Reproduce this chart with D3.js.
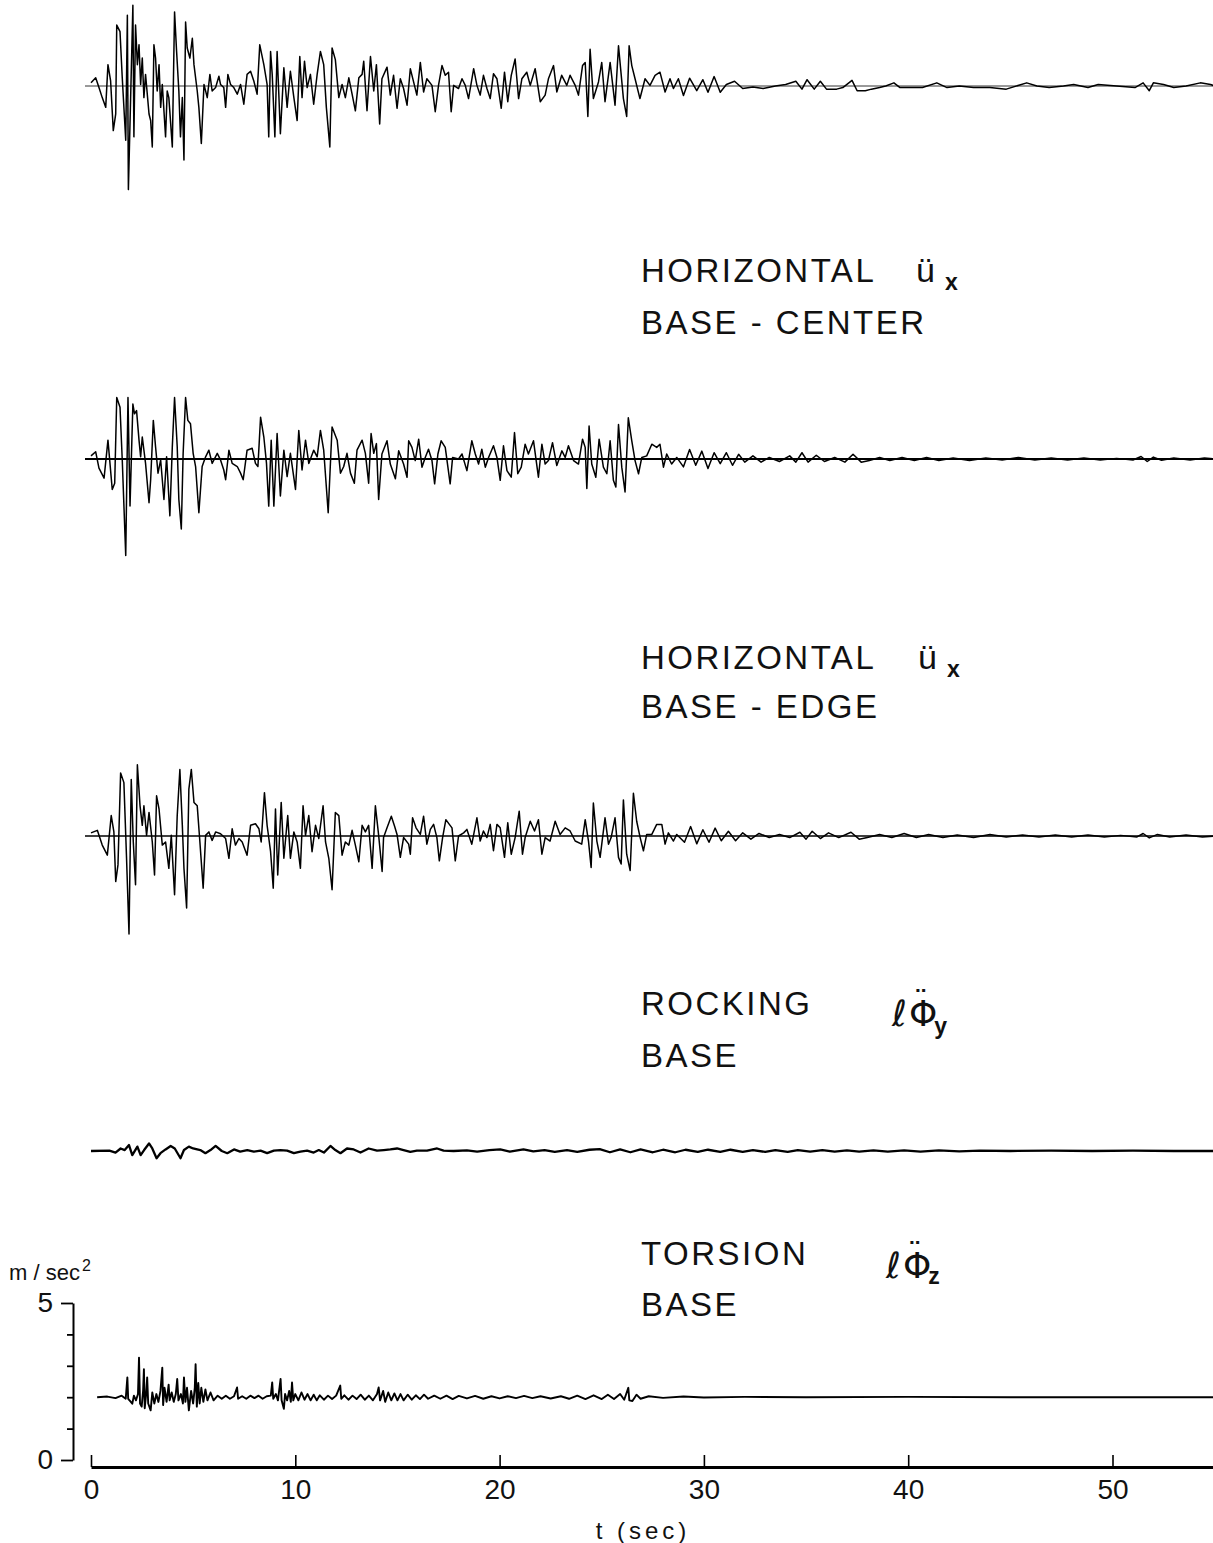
<!DOCTYPE html>
<html>
<head>
<meta charset="utf-8">
<script src="https://cdn.jsdelivr.net/npm/d3@7"></script>
<style>
  html, body { margin: 0; padding: 0; background: #fff; }
  svg { display: block; }
</style>
</head>
<body>
<svg id="chart" width="1213" height="1543"></svg>
<script>
// ---------------- DATA (time in sec, acceleration in m/sec^2) ----------------
const timeTicks = [0, 10, 20, 30, 40, 50];
const accelTicks = [0, 1, 2, 3, 4, 5];
const labelledAccelTicks = [0, 5];

// top record (label cropped above)
const upperRecord = [
[0,0.1],[0.23,0.26],[0.39,-0.05],[0.55,-0.37],[0.72,-0.68],[0.83,0.68],[0.96,0.16],[1.09,-1.42],[1.21,-0.89],[1.26,1.94],
[1.42,1.73],[1.53,0.26],[1.70,-1.73],[1.78,2.25],[1.83,-3.30],[1.94,-0.37],[2.05,2.57],[2.10,-1.62],[2.18,1.94],[2.27,0.68],
[2.35,1.31],[2.43,0.05],[2.51,0.89],[2.59,-0.37],[2.67,0.37],[2.84,-0.89],[2.92,-1.10],[3.00,-1.94],[3.08,1.31],[3.16,0.89],
[3.24,-0.16],[3.33,0.68],[3.41,-0.68],[3.49,0.05],[3.65,-1.62],[3.73,-0.16],[3.81,-0.37],[3.98,-1.94],[4.09,2.36],[4.19,1.10],
[4.30,-0.16],[4.38,-1.62],[4.47,-0.37],[4.55,-2.36],[4.63,2.04],[4.71,1.21],[4.84,0.89],[4.96,1.52],[5.04,0.68],[5.20,-0.16],
[5.28,-0.68],[5.40,-1.83],[5.53,0.05],[5.69,-0.37],[5.82,0.37],[5.93,-0.16],[6.10,-0.05],[6.26,0.31],[6.34,0.05],[6.50,-0.05],
[6.59,-0.68],[6.70,0.37],[6.83,0.05],[6.99,-0.05],[7.16,-0.26],[7.32,0.05],[7.48,-0.58],[7.64,0.37],[7.81,0.47],[7.97,0.16],
[8.13,-0.26],[8.26,1.31],[8.46,0.68],[8.62,0.05],[8.70,-1.62],[8.79,1.10],[8.87,0.37],[9.00,-1.62],[9.11,1.10],[9.27,-1.52],
[9.44,0.58],[9.60,-0.68],[9.76,0.47],[9.93,-0.37],[10.09,-1.10],[10.22,0.94],[10.33,-0.37],[10.45,0.79],[10.58,-0.05],[10.74,0.37],
[10.90,-0.58],[11.07,0.37],[11.23,1.10],[11.39,0.68],[11.52,-0.68],[11.69,-1.94],[11.80,1.21],[11.96,0.84],[12.13,-0.37],[12.29,0.05],
[12.45,-0.37],[12.62,0.26],[12.78,-0.26],[12.94,-0.79],[13.11,0.26],[13.27,0.37],[13.35,0.79],[13.51,-0.79],[13.68,0.94],[13.84,-0.16],
[13.97,0.68],[14.13,-1.21],[14.24,0.23],[14.49,0.60],[14.65,-0.29],[14.81,0.34],[14.98,-0.71],[15.14,0.23],[15.30,-0.08],[15.47,-0.61],
[15.63,0.55],[15.79,0.13],[15.95,-0.29],[16.12,0.75],[16.28,-0.19],[16.44,0.23],[16.69,0.02],[16.85,-0.82],[17.01,0.02],[17.18,0.65],
[17.34,0.34],[17.50,0.44],[17.63,-0.82],[17.75,0.02],[17.99,-0.08],[18.16,0.23],[18.32,0.02],[18.48,-0.40],[18.73,0.55],[18.89,0.02],
[19.05,-0.29],[19.21,0.34],[19.38,-0.08],[19.54,-0.40],[19.70,0.39],[19.87,0.23],[20.08,-0.71],[20.24,0.44],[20.40,-0.50],[20.57,0.34],
[20.76,0.86],[20.93,-0.40],[21.09,0.23],[21.33,0.44],[21.50,0.02],[21.74,0.55],[21.99,-0.50],[22.23,-0.29],[22.39,0.23],[22.64,0.65],
[22.80,-0.19],[23.04,0.34],[23.29,0.02],[23.45,0.34],[23.70,0.02],[23.86,-0.29],[24.06,0.65],[24.19,0.75],[24.32,-0.97],[24.43,1.17],
[24.59,-0.40],[24.84,0.13],[25.00,0.75],[25.16,-0.50],[25.41,0.75],[25.65,-0.61],[25.82,1.28],[26.06,-0.40],[26.22,-0.97],[26.34,1.28],
[26.47,0.65],[26.63,0.23],[26.87,-0.40],[27.12,0.23],[27.36,0.02],[27.61,0.34],[27.85,0.44],[28.10,-0.19],[28.34,0.23],[28.51,-0.08],
[28.75,0.23],[29.0,-0.3],[29.3,0.25],[29.65,-0.15],[29.95,0.2],[30.2,-0.2],[30.5,0.3],[30.8,-0.2],[31.1,0.05],[31.5,0.15],
[31.9,-0.08],[32.4,-0.03],[32.9,-0.08],[33.5,0.0],[34.0,0.05],[34.5,0.15],[34.8,-0.1],[35.05,0.2],[35.4,-0.1],[35.7,0.15],
[36.0,-0.1],[36.5,-0.1],[36.8,-0.05],[37.25,0.18],[37.5,-0.15],[37.9,-0.15],[38.2,-0.1],[38.6,-0.05],[38.9,0.0],[39.3,0.1],
[39.6,-0.05],[40.2,-0.05],[40.7,-0.05],[41.4,0.1],[41.9,-0.05],[42.5,0.0],[43.2,-0.05],[44.0,-0.05],[44.8,-0.1],[45.8,0.1],
[46.3,0.0],[46.9,-0.05],[47.6,0.0],[48.1,0.05],[48.8,-0.05],[49.3,0.05],[50.2,0.0],[51.1,-0.05],[51.5,0.1],[51.8,-0.15],
[52.0,0.1],[52.5,0.05],[53.0,-0.05],[53.6,0.0],[54.3,0.1],[54.8,0.05],[55,0]
];

// HORIZONTAL ü_x  BASE - CENTER
const baseCenterHoriz = [
[0,0.1],[0.23,0.23],[0.39,-0.29],[0.64,-0.61],[0.83,0.60],[1.04,-0.97],[1.16,-0.77],[1.26,1.96],[1.42,1.65],[1.53,-0.03],
[1.70,-3.07],[1.81,1.96],[1.91,-1.50],[2.05,1.75],[2.13,1.44],[2.23,1.54],[2.35,0.60],[2.43,0.07],[2.51,0.70],[2.67,-0.14],
[2.84,-1.39],[2.92,-0.66],[3.05,1.23],[3.16,0.39],[3.28,-0.45],[3.41,-0.03],[3.57,-1.29],[3.70,0.07],[3.86,-1.81],[3.98,0.39],
[4.09,1.96],[4.22,0.39],[4.30,-1.29],[4.42,-2.23],[4.51,0.18],[4.63,1.96],[4.74,1.23],[4.87,1.12],[5.00,0.18],[5.12,-0.24],
[5.28,-1.71],[5.44,-0.24],[5.61,0.07],[5.77,0.28],[5.93,-0.14],[6.18,0.18],[6.34,-0.03],[6.50,-0.35],[6.59,-0.66],[6.75,0.28],
[6.91,-0.14],[7.16,-0.24],[7.32,-0.45],[7.45,-0.66],[7.64,0.28],[7.89,0.34],[8.05,-0.14],[8.17,-0.24],[8.30,1.33],[8.46,0.70],
[8.59,-0.14],[8.70,-1.50],[8.82,0.60],[8.95,-1.50],[9.11,0.81],[9.27,-1.18],[9.44,0.28],[9.60,-0.56],[9.76,0.18],[10.01,-0.97],
[10.17,0.91],[10.33,-0.35],[10.50,0.60],[10.66,-0.14],[10.90,0.28],[11.07,0.07],[11.23,0.91],[11.39,0.28],[11.61,-1.71],[11.80,1.02],
[12.05,0.60],[12.21,-0.45],[12.37,-0.24],[12.53,0.18],[12.70,-0.45],[12.89,-0.77],[13.02,0.28],[13.27,0.60],[13.43,0.18],[13.59,-0.77],
[13.71,0.81],[13.84,0.18],[13.97,0.49],[14.08,-1.29],[14.24,0.16],[14.49,0.58],[14.65,-0.16],[14.90,-0.63],[15.06,0.26],[15.30,-0.16],
[15.47,-0.58],[15.55,0.58],[15.71,0.37],[15.87,-0.05],[16.04,0.63],[16.20,-0.26],[16.36,0.05],[16.52,0.31],[16.69,-0.05],[16.82,-0.79],
[16.98,0.16],[17.14,0.58],[17.34,0.37],[17.58,-0.79],[17.70,0.05],[17.99,0.0],[18.16,0.16],[18.40,-0.37],[18.64,0.58],[18.81,0.16],
[18.97,-0.16],[19.13,0.31],[19.30,-0.26],[19.46,0.05],[19.70,0.42],[19.87,0.05],[20.03,-0.68],[20.19,0.42],[20.36,-0.37],[20.57,-0.58],
[20.73,0.84],[20.89,-0.47],[21.06,-0.26],[21.25,0.47],[21.41,0.16],[21.66,0.58],[21.90,-0.58],[22.07,0.47],[22.23,-0.16],[22.39,-0.05],
[22.59,0.52],[22.80,-0.21],[23.05,0.26],[23.21,0.05],[23.37,0.42],[23.62,-0.05],[23.86,-0.16],[24.06,0.63],[24.19,0.37],[24.27,-0.94],
[24.38,1.05],[24.51,-0.16],[24.71,-0.58],[24.87,0.63],[25.08,-0.26],[25.25,-0.47],[25.41,0.58],[25.57,-0.68],[25.69,-0.89],[25.82,1.10],
[25.98,-0.26],[26.14,-1.05],[26.30,1.31],[26.47,0.58],[26.63,-0.05],[26.80,-0.47],[26.96,0.05],[27.20,0.10],[27.45,0.47],[27.69,0.37],
[27.85,0.47],[28.02,-0.26],[28.18,0.16],[28.42,-0.16],[28.67,0.05],[29.0,-0.25],[29.3,0.3],[29.6,-0.2],[29.9,0.25],[30.2,-0.3],
[30.5,0.2],[30.8,-0.15],[31.1,0.2],[31.4,-0.2],[31.7,0.15],[32.0,-0.1],[32.4,0.1],[32.8,-0.1],[33.2,0.05],[33.7,-0.08],
[34.2,0.1],[34.5,-0.1],[34.8,0.2],[35.1,-0.1],[35.5,0.12],[35.9,-0.08],[36.4,0.05],[36.9,-0.1],[37.3,0.15],[37.7,-0.1],
[38.1,-0.05],[38.6,0.05],[39.1,-0.05],[39.7,0.05],[40.3,-0.05],[40.9,0.05],[41.5,-0.05],[42.2,0.03],[43.0,-0.05],[43.8,0.03],
[44.6,-0.03],[45.4,0.05],[46.2,-0.03],[47.0,0.03],[47.8,-0.03],[48.6,0.03],[49.4,-0.03],[50.2,0.02],[51.0,-0.03],[51.4,0.08],
[51.7,-0.08],[52.0,0.06],[52.4,-0.04],[53.0,0.03],[53.8,-0.03],[54.5,0.03],[55,0]
];

// HORIZONTAL ü_x  BASE - EDGE
const baseEdgeHoriz = [
[0,0.1],[0.31,0.18],[0.55,-0.29],[0.80,-0.61],[0.99,0.65],[1.12,0.13],[1.21,-1.45],[1.32,-0.92],[1.45,2.01],[1.61,1.70],
[1.74,-0.71],[1.86,-3.12],[1.97,1.80],[2.07,-0.19],[2.18,-1.55],[2.27,2.27],[2.40,0.96],[2.51,0.34],[2.59,0.96],[2.72,0.02],
[2.84,0.75],[3.00,-0.19],[3.11,-1.24],[3.21,1.28],[3.33,0.86],[3.49,-0.29],[3.65,-0.19],[3.81,-1.03],[3.93,0.02],[4.09,-1.87],
[4.22,0.65],[4.35,2.12],[4.47,0.34],[4.55,-1.03],[4.68,-2.29],[4.79,1.49],[4.91,2.12],[5.04,1.07],[5.20,0.96],[5.33,-0.19],
[5.49,-1.66],[5.61,0.02],[5.77,0.13],[5.93,-0.14],[6.10,0.13],[6.34,0.07],[6.59,-0.08],[6.75,-0.71],[6.91,0.23],[7.07,-0.29],
[7.24,-0.08],[7.40,-0.19],[7.64,-0.61],[7.81,0.34],[8.05,0.39],[8.22,0.23],[8.33,-0.19],[8.49,1.38],[8.62,0.34],[8.79,-0.50],
[8.92,-1.66],[9.03,0.86],[9.14,-1.24],[9.31,1.07],[9.44,-0.71],[9.63,0.65],[9.76,-0.71],[9.93,0.13],[10.09,-0.19],[10.25,-1.03],
[10.38,0.96],[10.50,0.02],[10.66,0.65],[10.82,-0.50],[10.99,0.34],[11.15,-0.08],[11.36,0.96],[11.48,-0.19],[11.64,-0.71],[11.80,-1.71],
[11.96,0.75],[12.13,0.65],[12.29,-0.61],[12.45,-0.19],[12.62,-0.29],[12.78,0.18],[12.94,-0.29],[13.11,-0.82],[13.27,0.34],[13.43,0.13],
[13.59,0.34],[13.76,-1.03],[13.92,0.96],[14.08,0.02],[14.25,-1.13],[14.32,-0.05],[14.49,0.26],[14.70,0.63],[14.86,0.31],[14.98,0.05],
[15.14,-0.68],[15.30,-0.05],[15.55,-0.26],[15.63,-0.58],[15.74,0.58],[15.91,0.26],[16.12,0.05],[16.28,0.63],[16.44,-0.26],[16.61,0.21],
[16.77,0.37],[16.93,-0.05],[17.05,-0.79],[17.21,-0.05],[17.37,0.52],[17.54,0.37],[17.67,0.26],[17.83,-0.79],[17.99,0.0],[18.24,0.10],
[18.40,0.21],[18.64,-0.26],[18.89,0.58],[19.05,-0.16],[19.21,0.16],[19.38,-0.05],[19.54,0.37],[19.70,-0.47],[19.87,0.37],[20.03,0.26],
[20.24,-0.68],[20.40,0.42],[20.57,-0.58],[20.76,-0.05],[20.96,0.79],[21.12,-0.58],[21.25,-0.05],[21.50,0.47],[21.71,0.16],[21.90,0.52],
[22.07,-0.58],[22.23,-0.05],[22.47,-0.16],[22.72,0.47],[22.96,0.05],[23.21,0.26],[23.45,0.16],[23.70,-0.16],[24.02,-0.26],[24.19,0.52],
[24.35,-0.16],[24.48,-1.00],[24.59,1.05],[24.76,-0.16],[24.92,-0.68],[25.16,0.58],[25.33,-0.26],[25.46,-0.05],[25.65,0.58],[25.82,-0.68],
[25.95,-0.89],[26.06,1.15],[26.22,-0.58],[26.39,-1.10],[26.55,1.36],[26.71,0.47],[26.88,-0.05],[27.04,-0.47],[27.20,0.05],[27.45,0.05],
[27.69,0.37],[27.94,0.37],[28.10,-0.26],[28.26,0.10],[28.51,-0.16],[28.67,0.05],[29.05,-0.2],[29.35,0.3],[29.65,-0.25],[29.95,0.2],
[30.25,-0.2],[30.55,0.25],[30.85,-0.15],[31.2,0.15],[31.55,-0.15],[31.9,0.1],[32.3,-0.1],[32.7,0.08],[33.2,-0.05],[33.7,0.05],
[34.2,-0.05],[34.7,0.12],[35.0,-0.1],[35.3,0.15],[35.7,-0.08],[36.1,0.1],[36.6,-0.05],[37.2,0.12],[37.6,-0.1],[38.0,-0.05],
[38.6,0.05],[39.2,-0.05],[39.8,0.08],[40.4,-0.05],[41.0,0.05],[41.7,-0.05],[42.4,0.03],[43.2,-0.05],[44.0,0.05],[44.8,-0.03],
[45.6,0.03],[46.4,-0.03],[47.2,0.03],[48.0,-0.03],[48.8,0.03],[49.6,-0.03],[50.4,0.02],[51.2,-0.03],[51.5,0.08],[51.8,-0.06],
[52.2,0.05],[52.8,-0.03],[53.6,0.03],[54.4,-0.03],[55,0]
];

// ROCKING ℓΦ̈_y  BASE
const baseRocking = [
[0,0],[0.9,0.01],[1.2,-0.05],[1.45,0.08],[1.65,0.03],[1.86,0.19],[2.02,-0.13],[2.27,0.14],[2.43,-0.13],[2.6,0.03],
[2.84,0.24],[3.0,0.08],[3.21,-0.23],[3.4,-0.07],[3.65,0.05],[3.9,0.16],[4.1,0.08],[4.38,-0.23],[4.55,0.03],[4.79,0.14],
[5.0,0.08],[5.35,0.03],[5.6,-0.07],[5.85,0.03],[6.1,0.16],[6.4,0],[6.67,-0.07],[7.0,0.05],[7.3,-0.02],[7.65,0.03],
[7.97,-0.02],[8.3,0.01],[8.62,-0.07],[8.95,0.01],[9.27,0.03],[9.6,0.01],[9.93,-0.07],[10.25,-0.02],[10.58,0.01],[10.9,-0.05],
[11.15,0.03],[11.4,-0.05],[11.72,0.16],[11.96,0.03],[12.21,-0.07],[12.53,0.08],[12.86,0.05],[13.19,-0.05],[13.59,0.08],[14.0,0.01],
[14.33,0.03],[14.65,0.05],[14.98,0.08],[15.3,0.03],[15.63,-0.03],[15.95,0.01],[16.45,0.01],[16.94,0.08],[17.26,0.01],[17.75,0],
[18.4,0.02],[18.9,-0.02],[19.5,0.03],[20.03,0.05],[20.5,-0.02],[21.17,0.05],[21.65,-0.01],[22.2,0.03],[22.7,-0.03],[23.3,0.03],
[23.8,-0.03],[24.4,0.04],[24.9,0.06],[25.4,-0.04],[25.9,0.05],[26.4,-0.04],[26.9,0.05],[27.5,-0.04],[28.0,0.04],[28.6,-0.04],
[29.1,0.04],[29.7,-0.03],[30.2,0.04],[30.8,-0.03],[31.3,0.04],[31.9,-0.03],[32.4,0.03],[33.0,-0.03],[33.5,0.03],[34.1,-0.03],
[34.6,0.03],[35.2,-0.02],[35.8,0.03],[36.4,-0.02],[37.0,0.02],[37.6,-0.02],[38.3,0.02],[39.0,-0.02],[39.8,0.02],[40.6,-0.02],
[41.5,0.02],[42.5,-0.01],[43.5,0.01],[45,0],[47,0.01],[49,0],[51,0.01],[53,0],[55,0]
];

// TORSION ℓΦ̈_z  BASE (drawn about its reference line)
const baseTorsion = [
[0.3,0],[0.8,0.02],[1.2,-0.03],[1.5,0.05],[1.7,-0.05],[1.78,0.63],[1.82,-0.05],[1.95,-0.15],[2.02,-0.21],[2.1,0.05],
[2.2,-0.1],[2.3,0.1],[2.35,1.26],[2.4,-0.2],[2.48,-0.3],[2.55,0.2],[2.59,0.89],[2.63,-0.35],[2.7,0.1],[2.75,0.63],
[2.8,-0.2],[2.92,-0.42],[3.0,0.15],[3.1,-0.2],[3.2,0.1],[3.3,-0.15],[3.4,0.2],[3.49,0.94],[3.53,-0.25],[3.6,0.3],
[3.7,-0.15],[3.8,0.4],[3.85,-0.1],[3.95,0.15],[4.05,-0.15],[4.15,0.1],[4.22,0.58],[4.28,-0.1],[4.4,0.1],[4.5,-0.2],
[4.55,0.63],[4.62,-0.15],[4.7,0.3],[4.79,-0.42],[4.9,0.2],[5.0,-0.2],[5.08,0.3],[5.12,1.05],[5.18,-0.3],[5.25,0.45],
[5.32,-0.2],[5.4,0.3],[5.5,-0.15],[5.6,0.25],[5.7,-0.1],[5.85,0.15],[6.0,-0.1],[6.2,0.05],[6.4,-0.05],[6.6,0.05],
[6.8,-0.05],[7.0,0.03],[7.15,0.31],[7.2,-0.05],[7.4,0.03],[7.6,-0.05],[7.8,0.05],[8.0,-0.03],[8.2,0.05],[8.4,-0.05],
[8.6,0.03],[8.8,0.05],[8.87,0.47],[8.92,-0.05],[9.05,0.1],[9.15,-0.1],[9.28,0.58],[9.33,-0.1],[9.44,-0.37],[9.5,0.1],
[9.6,-0.1],[9.7,0.2],[9.78,-0.15],[9.84,0.47],[9.9,-0.1],[10.0,0.1],[10.15,-0.1],[10.3,0.15],[10.45,-0.08],[10.6,0.1],
[10.75,-0.1],[10.9,0.08],[11.05,-0.1],[11.2,0.06],[11.4,-0.08],[11.6,0.05],[11.8,-0.06],[12.0,0.05],[12.2,0.37],[12.25,-0.05],
[12.4,0.06],[12.6,-0.08],[12.8,0.05],[13.0,-0.06],[13.2,0.08],[13.4,-0.08],[13.6,0.05],[13.8,-0.1],[14.0,0.1],[14.08,0.31],
[14.15,-0.1],[14.3,0.2],[14.4,-0.15],[14.55,0.15],[14.7,-0.1],[14.85,0.12],[15.0,-0.1],[15.15,0.1],[15.3,-0.1],[15.5,0.08],
[15.7,-0.08],[15.9,0.06],[16.1,-0.06],[16.3,0.08],[16.5,-0.05],[16.8,0.05],[17.1,-0.05],[17.4,0.05],[17.7,-0.06],[18.0,0.04],
[18.4,-0.04],[18.8,0.04],[19.2,-0.05],[19.6,0.03],[20.0,-0.04],[20.4,0.03],[20.8,-0.03],[21.2,0.04],[21.6,-0.03],[22.0,0.03],
[22.5,-0.04],[23.0,0.03],[23.4,-0.05],[23.8,0.05],[24.2,-0.06],[24.6,0.06],[25.0,-0.06],[25.3,0.08],[25.6,-0.06],[25.9,0.1],
[26.1,-0.08],[26.3,0.3],[26.35,-0.1],[26.5,-0.12],[26.7,0.08],[26.9,-0.05],[27.3,0.03],[28,-0.02],[29,0.02],[30,-0.01],
[32,0.01],[35,0],[40,0.01],[45,0],[50,0],[55,0]
];

const captionTitles = ["HORIZONTAL", "HORIZONTAL", "ROCKING", "TORSION"];
const captionSubtitles = ["BASE - CENTER", "BASE - EDGE", "BASE", "BASE"];
// [prefix (italic), main symbol, accent above main, subscript]
const captionSymbols = [["", "ü", "", "x"], ["", "ü", "", "x"], ["\u2113", "\u03A6", "\u00A8", "y"], ["\u2113", "\u03A6", "\u00A8", "z"]];
const xAxisTitle = "t (sec)";
const yAxisUnit = ["m / sec", "2"];

// ---------------- LAYOUT ----------------
const svg = d3.select("#chart");
const FONT = "'Liberation Sans', Arial, sans-serif";
const x = d3.scaleLinear().domain([0, 55]).range([91, 91 + 55 * 20.43]);
const yAxisScale = d3.scaleLinear().domain([0, 5]).range([1460, 1303]);
const pxPerUnit = (yAxisScale(0) - yAxisScale(5)) / 5;
const torsionOffset = 2;

function panelScale(baseY) {
  return d3.scaleLinear().domain([0, 1]).range([baseY, baseY - pxPerUnit]);
}

const traces = [
  { data: upperRecord,     y: panelScale(86),  width: 1.5, zeroWidth: 0.8 },
  { data: baseCenterHoriz, y: panelScale(459), width: 1.5, zeroWidth: 1.8 },
  { data: baseEdgeHoriz,   y: panelScale(836), width: 1.5, zeroWidth: 1.5 },
  { data: baseRocking,     y: panelScale(1151), width: 2.3, zeroWidth: 0 },
  { data: baseTorsion,     y: d3.scaleLinear().domain([0, 1]).range([yAxisScale(torsionOffset), yAxisScale(torsionOffset + 1)]), width: 1.9, zeroWidth: 0 }
];

const gTraces = svg.append("g");
traces.forEach(tr => {
  if (tr.zeroWidth > 0) {
    gTraces.append("line")
      .attr("x1", x(0) - 6).attr("x2", x(55))
      .attr("y1", tr.y(0)).attr("y2", tr.y(0))
      .attr("stroke", "#000").attr("stroke-width", tr.zeroWidth);
  }
  const line = d3.line().x(d => x(d[0])).y(d => tr.y(d[1]));
  gTraces.append("path")
    .datum(tr.data)
    .attr("d", line)
    .attr("fill", "none")
    .attr("stroke", "#000")
    .attr("stroke-width", tr.width)
    .attr("stroke-linejoin", "round");
});

// ---------------- CAPTIONS ----------------
const captionLayout = [
  { x: 641, y1: 282, y2: 334, symX: 916, symY: 282, subDx: 10, subDy: 8, symSize: 34 },
  { x: 641, y1: 669, y2: 718, symX: 918, symY: 669, subDx: 10, subDy: 8, symSize: 34 },
  { x: 641, y1: 1015, y2: 1067, symX: 892, symY: 1026, subDx: 6, subDy: 8, symSize: 36 },
  { x: 641, y1: 1265, y2: 1316, symX: 886, symY: 1278, subDx: 6, subDy: 6, symSize: 36 }
];
const gCap = svg.append("g").attr("fill", "#111");
captionTitles.forEach((t, i) => {
  const L = captionLayout[i];
  gCap.append("text").attr("x", L.x).attr("y", L.y1)
    .attr("font-family", FONT).attr("font-size", 33).attr("letter-spacing", 2.5)
    .text(t);
  gCap.append("text").attr("x", L.x).attr("y", L.y2)
    .attr("font-family", FONT).attr("font-size", 33).attr("letter-spacing", 2.5)
    .text(captionSubtitles[i]);
  const sym = captionSymbols[i];
  const s = gCap.append("text").attr("x", L.symX).attr("y", L.symY)
    .attr("font-family", i < 2 ? FONT : "'DejaVu Sans', sans-serif")
    .attr("font-size", L.symSize);
  let lift = 0;
  if (sym[0]) s.append("tspan").attr("font-style", "italic").text(sym[0]);
  s.append("tspan").attr("dx", sym[0] ? 2 : 0).text(sym[1]);
  if (sym[2]) {
    lift = 14;
    s.append("tspan").attr("dx", -24).attr("dy", -lift).attr("font-size", 30).text(sym[2]);
  }
  s.append("tspan").attr("dx", L.subDx).attr("dy", L.subDy + lift)
    .attr("font-family", FONT)
    .attr("font-size", 23).attr("font-weight", "bold")
    .text(sym[3]);
});

// ---------------- AXES ----------------
const xAxis = d3.axisBottom(x).tickValues(timeTicks).tickSizeInner(-12).tickSizeOuter(0).tickPadding(12);
const gx = svg.append("g").attr("transform", "translate(0,1467)").call(xAxis);
gx.select(".domain").attr("stroke-width", 3);
gx.selectAll(".tick line").attr("stroke-width", 1.6);
gx.selectAll(".tick text").attr("font-family", FONT).attr("font-size", 28).attr("fill", "#111");

const yAxis = d3.axisLeft(yAxisScale).tickValues(accelTicks).tickSizeInner(12).tickSizeOuter(0).tickPadding(8)
  .tickFormat(d => labelledAccelTicks.includes(d) ? d : "");
const gy = svg.append("g").attr("transform", "translate(73,0)").call(yAxis);
gy.select(".domain").attr("stroke-width", 2);
gy.selectAll(".tick line").attr("stroke-width", 1.8)
  .attr("x2", d => labelledAccelTicks.includes(d) ? -12 : -6);
gy.selectAll(".tick text").attr("font-family", FONT).attr("font-size", 28).attr("fill", "#111");

svg.append("text").attr("x", 643).attr("y", 1539).attr("text-anchor", "middle")
  .attr("font-family", FONT).attr("font-size", 24).attr("letter-spacing", 4).attr("fill", "#111")
  .text(xAxisTitle);

const unit = svg.append("text").attr("x", 9).attr("y", 1280)
  .attr("font-family", FONT).attr("font-size", 22).attr("fill", "#111");
unit.append("tspan").text(yAxisUnit[0]);
unit.append("tspan").attr("dx", 2).attr("dy", -9).attr("font-size", 16).text(yAxisUnit[1]);
</script>
</body>
</html>
